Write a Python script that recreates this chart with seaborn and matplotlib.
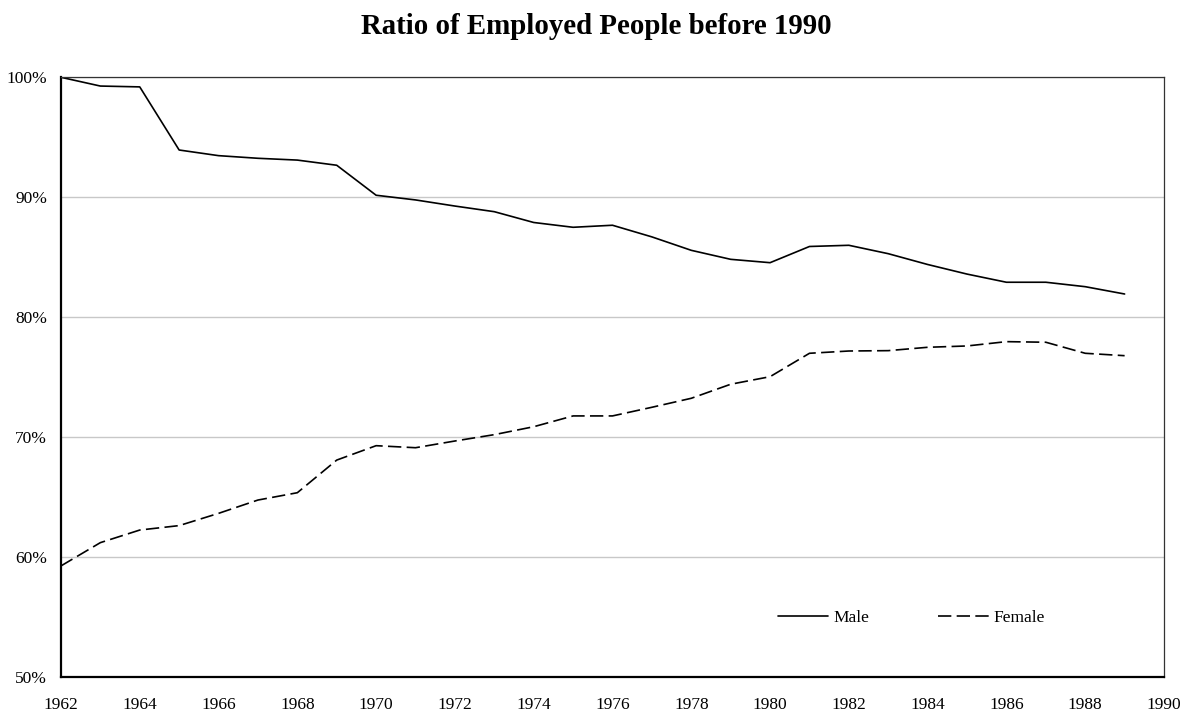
import pandas as pd
import seaborn as sns
import matplotlib.pyplot as plt
from matplotlib.ticker import PercentFormatter

# === Data ===
years = list(range(1962, 1990))
male = [100.0, 99.27, 99.2, 93.94, 93.47, 93.25, 93.1, 92.67, 90.17, 89.78,
        89.27, 88.8, 87.9, 87.5, 87.67, 86.7, 85.58, 84.83, 84.55, 85.9,
        86.0, 85.3, 84.4, 83.6, 82.92, 82.92, 82.55, 81.94]
female = [59.28, 61.22, 62.27, 62.64, 63.66, 64.77, 65.38, 68.1, 69.3, 69.13,
          69.69, 70.22, 70.88, 71.78, 71.78, 72.5, 73.25, 74.42, 75.05, 77.0,
          77.19, 77.22, 77.5, 77.61, 77.97, 77.92, 77.0, 76.8]
x_ticks = list(range(1962, 1991, 2))
y_ticks = [50, 60, 70, 80, 90, 100]

df = pd.DataFrame({
    "year": years * 2,
    "ratio": male + female,
    "sex": ["Male"] * len(years) + ["Female"] * len(years),
})

# === Style ===
sns.set_style("white")
plt.rcParams["font.family"] = ["Liberation Serif", "DejaVu Serif"]
plt.rcParams["text.color"] = "black"
plt.rcParams["xtick.color"] = "black"
plt.rcParams["ytick.color"] = "black"

fig = plt.figure(figsize=(11.93, 7.13), dpi=100)
ax = fig.add_axes([0.0511, 0.0501, 0.9246, 0.8415])

sns.lineplot(data=df, x="year", y="ratio", style="sex", color="black",
             dashes={"Male": "", "Female": (8, 3.2)}, linewidth=1.2, ax=ax)

ax.set_xlim(1962, 1990)
ax.set_ylim(50, 100)
ax.set_xticks(x_ticks)
ax.set_yticks(y_ticks)
ax.yaxis.set_major_formatter(PercentFormatter(decimals=0))
ax.grid(axis="y", color="#c8c8c8", linewidth=1.0)
ax.set_axisbelow(True)
ax.set_xlabel("")
ax.set_ylabel("")

ax.tick_params(axis="x", direction="in", length=5, width=1.2, labelsize=12.5, pad=14, color="black")
ax.tick_params(axis="y", length=0, labelsize=12.5, pad=10)

for side in ["left", "bottom"]:
    ax.spines[side].set_linewidth(1.6)
    ax.spines[side].set_color("black")
for side in ["top", "right"]:
    ax.spines[side].set_linewidth(0.9)
    ax.spines[side].set_color("#333333")

ax.legend(title=None, loc="center", bbox_to_anchor=(0.771, 0.099), ncol=2, frameon=False,
          fontsize=12.5, handlelength=2.9, handletextpad=0.3, columnspacing=4.0)

fig.suptitle("Ratio of Employed People before 1990", fontsize=20.8, fontweight="bold", y=0.982)

plt.savefig("out.png", dpi=100)
